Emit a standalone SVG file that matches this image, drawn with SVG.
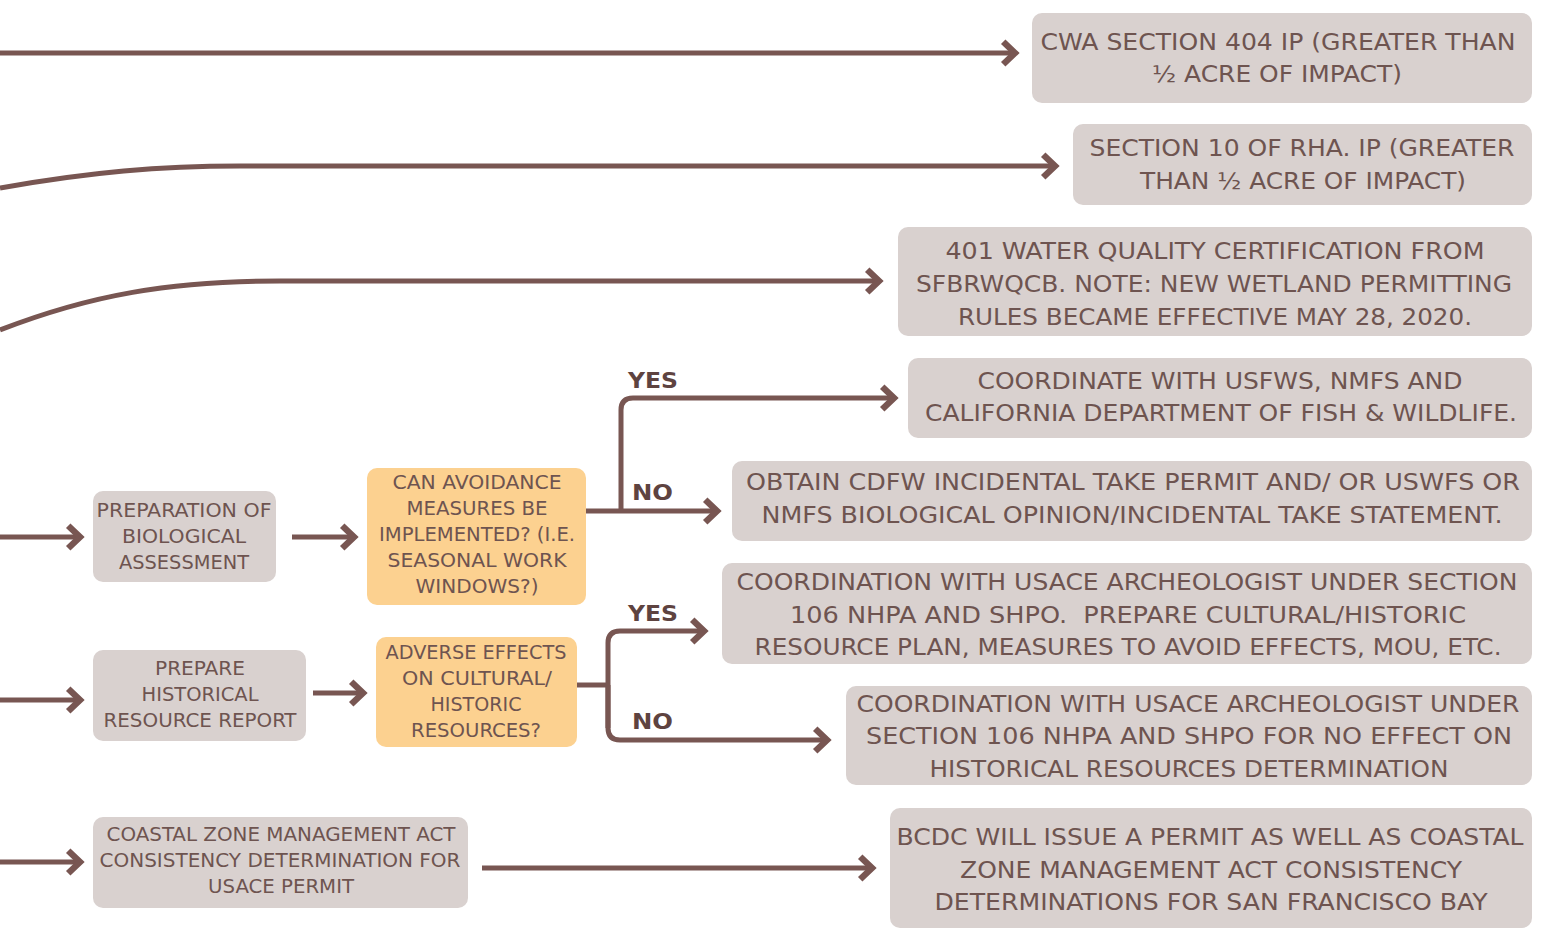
<svg xmlns="http://www.w3.org/2000/svg" width="1542" height="930" viewBox="0 0 1542 930">
<style>
.g{fill:#d9d1cf}
.o{fill:#fcd190}
.t{font-family:"DejaVu Sans Condensed","Liberation Sans Narrow","Liberation Sans",sans-serif;fill:#6e5450;text-anchor:middle;font-size:23px}
.s{font-size:19.5px}
.c{fill:none;stroke:#785652;stroke-width:5}
.l{font-family:"DejaVu Sans","Liberation Sans",sans-serif;font-weight:bold;fill:#5e4340;font-size:22px}
</style>
<defs>
<marker id="ah" markerUnits="userSpaceOnUse" markerWidth="30" markerHeight="30" viewBox="-16 -14 20 28" refX="0" refY="0" orient="auto">
<path d="M-11,-10.5 L0,0 L-11,10.5" fill="none" stroke="#785652" stroke-width="6" stroke-linejoin="miter"/>
</marker>
</defs>
<rect width="1542" height="930" fill="#ffffff"/>
<g id="connectors">
<path class="c" d="M0,53 H1015" marker-end="url(#ah)"/>
<path class="c" d="M0,188 C90,172 160,166 240,166 H1055" marker-end="url(#ah)"/>
<path class="c" d="M0,330 C90,295 170,281 280,281 H879" marker-end="url(#ah)"/>
<path class="c" d="M0,537 H80" marker-end="url(#ah)"/>
<path class="c" d="M292,537 H354" marker-end="url(#ah)"/>
<path class="c" d="M586,511 H717" marker-end="url(#ah)"/>
<path class="c" d="M621,511 V410 Q621,398 633,398 H894" marker-end="url(#ah)"/>
<path class="c" d="M0,700 H80" marker-end="url(#ah)"/>
<path class="c" d="M313,693 H363" marker-end="url(#ah)"/>
<path class="c" d="M577,685 H608"/>
<path class="c" d="M608,728 V643 Q608,631 620,631 H704" marker-end="url(#ah)"/>
<path class="c" d="M608,685 V728 Q608,740 620,740 H827" marker-end="url(#ah)"/>
<path class="c" d="M0,862 H80" marker-end="url(#ah)"/>
<path class="c" d="M482,868 H872" marker-end="url(#ah)"/>
<text class="l" x="628" y="388" textLength="50" lengthAdjust="spacingAndGlyphs">YES</text>
<text class="l" x="632" y="500" textLength="41" lengthAdjust="spacingAndGlyphs">NO</text>
<text class="l" x="628" y="621" textLength="50" lengthAdjust="spacingAndGlyphs">YES</text>
<text class="l" x="632" y="729" textLength="41" lengthAdjust="spacingAndGlyphs">NO</text>
</g>
<g id="n-cwa">
<rect class="g" x="1032" y="13" width="500" height="90" rx="10"/>
<text class="t" x="1278" y="50" textLength="475" lengthAdjust="spacingAndGlyphs">CWA SECTION 404 IP (GREATER THAN</text>
<text class="t" x="1277" y="82" textLength="250" lengthAdjust="spacingAndGlyphs">½ ACRE OF IMPACT)</text>
</g>
<g id="n-rha">
<rect class="g" x="1073" y="124" width="459" height="81" rx="10"/>
<text class="t" x="1302" y="156" textLength="425" lengthAdjust="spacingAndGlyphs">SECTION 10 OF RHA. IP (GREATER</text>
<text class="t" x="1303" y="189" textLength="326" lengthAdjust="spacingAndGlyphs">THAN ½ ACRE OF IMPACT)</text>
</g>
<g id="n-401">
<rect class="g" x="898" y="227" width="634" height="109" rx="10"/>
<text class="t" x="1215" y="259" textLength="539" lengthAdjust="spacingAndGlyphs">401 WATER QUALITY CERTIFICATION FROM</text>
<text class="t" x="1214" y="292" textLength="596" lengthAdjust="spacingAndGlyphs">SFBRWQCB. NOTE: NEW WETLAND PERMITTING</text>
<text class="t" x="1215" y="325" textLength="514" lengthAdjust="spacingAndGlyphs">RULES BECAME EFFECTIVE MAY 28, 2020.</text>
</g>
<g id="n-coordinate">
<rect class="g" x="908" y="358" width="624" height="80" rx="10"/>
<text class="t" x="1220" y="389" textLength="485" lengthAdjust="spacingAndGlyphs">COORDINATE WITH USFWS, NMFS AND</text>
<text class="t" x="1221" y="421" textLength="592" lengthAdjust="spacingAndGlyphs">CALIFORNIA DEPARTMENT OF FISH &amp; WILDLIFE.</text>
</g>
<g id="n-obtain">
<rect class="g" x="732" y="461" width="800" height="80" rx="10"/>
<text class="t" x="1133" y="490" textLength="774" lengthAdjust="spacingAndGlyphs">OBTAIN CDFW INCIDENTAL TAKE PERMIT AND/ OR USWFS OR</text>
<text class="t" x="1132" y="523" textLength="741" lengthAdjust="spacingAndGlyphs">NMFS BIOLOGICAL OPINION/INCIDENTAL TAKE STATEMENT.</text>
</g>
<g id="n-coord-yes">
<rect class="g" x="722" y="563" width="810" height="101" rx="10"/>
<text class="t" x="1127" y="590" textLength="781" lengthAdjust="spacingAndGlyphs">COORDINATION WITH USACE ARCHEOLOGIST UNDER SECTION</text>
<text class="t" x="1128" y="623" textLength="676" lengthAdjust="spacingAndGlyphs">106 NHPA AND SHPO.&#160; PREPARE CULTURAL/HISTORIC</text>
<text class="t" x="1128" y="655" textLength="747" lengthAdjust="spacingAndGlyphs">RESOURCE PLAN, MEASURES TO AVOID EFFECTS, MOU, ETC.</text>
</g>
<g id="n-coord-no">
<rect class="g" x="846" y="686" width="686" height="99" rx="10"/>
<text class="t" x="1188" y="712" textLength="663" lengthAdjust="spacingAndGlyphs">COORDINATION WITH USACE ARCHEOLOGIST UNDER</text>
<text class="t" x="1189" y="744" textLength="646" lengthAdjust="spacingAndGlyphs">SECTION 106 NHPA AND SHPO FOR NO EFFECT ON</text>
<text class="t" x="1189" y="777" textLength="519" lengthAdjust="spacingAndGlyphs">HISTORICAL RESOURCES DETERMINATION</text>
</g>
<g id="n-bcdc">
<rect class="g" x="890" y="808" width="642" height="120" rx="10"/>
<text class="t" x="1210" y="845" textLength="627" lengthAdjust="spacingAndGlyphs">BCDC WILL ISSUE A PERMIT AS WELL AS COASTAL</text>
<text class="t" x="1211" y="878" textLength="502" lengthAdjust="spacingAndGlyphs">ZONE MANAGEMENT ACT CONSISTENCY</text>
<text class="t" x="1211" y="910" textLength="553" lengthAdjust="spacingAndGlyphs">DETERMINATIONS FOR SAN FRANCISCO BAY</text>
</g>
<g id="n-bio">
<rect class="g" x="93" y="491" width="183" height="91" rx="10"/>
<text class="t s" x="184" y="517" textLength="175" lengthAdjust="spacingAndGlyphs">PREPARATION OF</text>
<text class="t s" x="184" y="543" textLength="124" lengthAdjust="spacingAndGlyphs">BIOLOGICAL</text>
<text class="t s" x="184" y="569" textLength="130" lengthAdjust="spacingAndGlyphs">ASSESSMENT</text>
</g>
<g id="n-avoid">
<rect class="o" x="367" y="468" width="219" height="137" rx="10"/>
<text class="t s" x="477" y="489" textLength="169" lengthAdjust="spacingAndGlyphs">CAN AVOIDANCE</text>
<text class="t s" x="477" y="515" textLength="141" lengthAdjust="spacingAndGlyphs">MEASURES BE</text>
<text class="t s" x="477" y="541" textLength="196" lengthAdjust="spacingAndGlyphs">IMPLEMENTED? (I.E.</text>
<text class="t s" x="477" y="567" textLength="179" lengthAdjust="spacingAndGlyphs">SEASONAL WORK</text>
<text class="t s" x="477" y="593" textLength="123" lengthAdjust="spacingAndGlyphs">WINDOWS?)</text>
</g>
<g id="n-hist">
<rect class="g" x="93" y="650" width="213" height="91" rx="10"/>
<text class="t s" x="200" y="675" textLength="90" lengthAdjust="spacingAndGlyphs">PREPARE</text>
<text class="t s" x="200" y="701" textLength="117" lengthAdjust="spacingAndGlyphs">HISTORICAL</text>
<text class="t s" x="200" y="727" textLength="193" lengthAdjust="spacingAndGlyphs">RESOURCE REPORT</text>
</g>
<g id="n-adverse">
<rect class="o" x="376" y="637" width="201" height="110" rx="10"/>
<text class="t s" x="476" y="659" textLength="181" lengthAdjust="spacingAndGlyphs">ADVERSE EFFECTS</text>
<text class="t s" x="477" y="685" textLength="150" lengthAdjust="spacingAndGlyphs">ON CULTURAL/</text>
<text class="t s" x="476" y="711" textLength="91" lengthAdjust="spacingAndGlyphs">HISTORIC</text>
<text class="t s" x="476" y="737" textLength="130" lengthAdjust="spacingAndGlyphs">RESOURCES?</text>
</g>
<g id="n-coastal">
<rect class="g" x="93" y="817" width="375" height="91" rx="10"/>
<text class="t s" x="281" y="841" textLength="349" lengthAdjust="spacingAndGlyphs">COASTAL ZONE MANAGEMENT ACT</text>
<text class="t s" x="280" y="867" textLength="361" lengthAdjust="spacingAndGlyphs">CONSISTENCY DETERMINATION FOR</text>
<text class="t s" x="281" y="893" textLength="146" lengthAdjust="spacingAndGlyphs">USACE PERMIT</text>
</g>
</svg>
